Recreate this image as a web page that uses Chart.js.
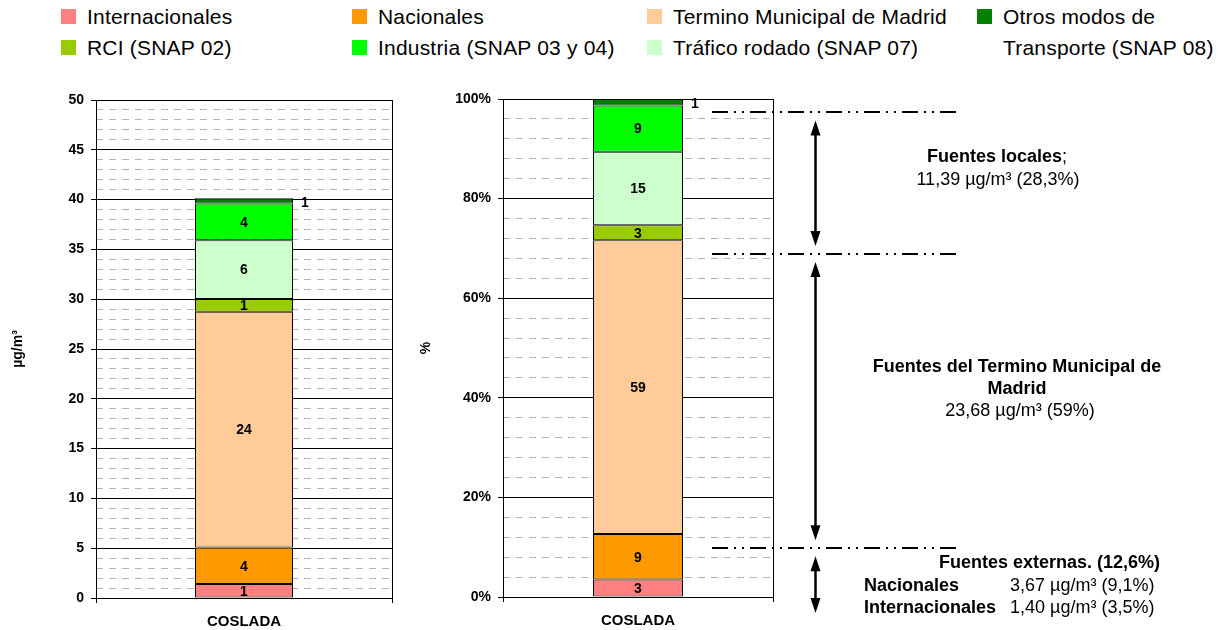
<!DOCTYPE html>
<html>
<head>
<meta charset="utf-8">
<script src="https://cdn.jsdelivr.net/npm/chart.js@4.4.1/dist/chart.umd.min.js"></script>
<style>
    body { margin: 0; width: 1230px; height: 630px; background: #fff; position: relative; overflow: hidden;
           font-family: "Liberation Sans", Arial, sans-serif; color: #000; }
    canvas { position: absolute; top: 0; }
    #concChart { left: 0; }
    #pctChart { left: 400px; }
    .lg-item { position: absolute; height: 31px; font-size: 21px; line-height: 31px; letter-spacing: 0.2px; white-space: nowrap; }
    .lg-item i { position: absolute; left: 0; top: 8px; width: 15px; height: 15px; }
    .lg-item span { position: absolute; left: 26px; top: 0; }
    .lg-item.wrap span { white-space: normal; width: 225px; }
</style>
</head>
<body>
<div id="legend"></div>
<canvas id="concChart" width="400" height="630"></canvas>
<canvas id="pctChart" width="830" height="630"></canvas>
<script>
    const categories = ['COSLADA'];
    // stack order, bottom to top
    const sources = ['Internacionales', 'Nacionales', 'Termino Municipal de Madrid', 'RCI (SNAP 02)',
        'Tráfico rodado (SNAP 07)', 'Industria (SNAP 03 y 04)', 'Otros modos de Transporte (SNAP 08)'];
    const sourceColors = ['#FF8080', '#FF9900', '#FFCC99', '#99CC00', '#CCFFCC', '#00FF00', '#008000'];
    // contribution at COSLADA, µg/m3
    const concUgm3 = [1.40, 3.67, 23.68, 1.27, 5.90, 3.70, 0.52];
    // same contributions as a share of the total, %
    const sharePct = [3.49, 9.14, 58.99, 3.05, 14.75, 9.28, 1.30];
    const concTicks = { max: 50, major: 5, minor: 1 };
    const pctTicks = { max: 100, major: 20, minor: 4 };

    // brackets on the % chart: dash-dot levels and double arrows between them
    const guideLevels = [97.3, 68.9, 9.8];
    const arrowSpans = [[97.3, 68.9], [68.9, 9.8], [9.8, -4.8]];
    const notes = [
        { x: 597, y: 157, align: 'center', runs: [['Fuentes locales', true], [';', false]] },
        { x: 598, y: 180, align: 'center', runs: [['11,39 µg/m³ (28,3%)', false]] },
        { x: 617, y: 367, align: 'center', runs: [['Fuentes del Termino Municipal de', true]] },
        { x: 617, y: 389, align: 'center', runs: [['Madrid', true]] },
        { x: 620, y: 411, align: 'center', runs: [['23,68 µg/m³ (59%)', false]] },
        { x: 760, y: 563, align: 'right', runs: [['Fuentes externas. (12,6%)', true]] },
        { x: 464, y: 586, align: 'left', runs: [['Nacionales', true]] },
        { x: 610, y: 586, align: 'left', runs: [['3,67 µg/m³ (9,1%)', false]] },
        { x: 464, y: 608, align: 'left', runs: [['Internacionales', true]] },
        { x: 610, y: 608, align: 'left', runs: [['1,40 µg/m³ (3,5%)', false]] }
    ];

    const FONT = '"Liberation Sans", Arial, sans-serif';
    Chart.defaults.font.family = FONT;
    Chart.defaults.color = '#000';

    // legend (x, row) for each source
    const legendSlots = [[61, 0], [352, 0], [647, 0], [61, 1], [647, 1], [352, 1], [977, 0]];
    const legend = document.getElementById('legend');
    sources.forEach((name, i) => {
        const item = document.createElement('div');
        item.className = 'lg-item' + (i === 6 ? ' wrap' : '');
        item.style.left = legendSlots[i][0] + 'px';
        item.style.top = (1 + legendSlots[i][1] * 31) + 'px';
        item.innerHTML = '<i style="background:' + sourceColors[i] + '"></i><span>' + name + '</span>';
        legend.appendChild(item);
    });

    // rounded value in each segment; thin segments get it beside the bar
    const segmentLabels = {
        id: 'segmentLabels',
        afterDatasetsDraw(chart) {
            const ctx = chart.ctx;
            ctx.save();
            ctx.font = 'bold 14px ' + FONT;
            ctx.fillStyle = '#000';
            ctx.textAlign = 'center';
            ctx.textBaseline = 'middle';
            chart.data.datasets.forEach((ds, i) => {
                chart.getDatasetMeta(i).data.forEach((bar, j) => {
                    const { x, y, base, width } = bar.getProps(['x', 'y', 'base', 'width'], true);
                    const label = String(Math.round(ds.data[j]));
                    const mid = (y + base) / 2;
                    if (Math.abs(base - y) < 9) ctx.fillText(label, x + width / 2 + 12, mid + 2);
                    else ctx.fillText(label, x, mid + 1);
                });
            });
            ctx.restore();
        }
    };

    function drawArrow(ctx, x, top, bottom) {
        const head = 15, half = 5;
        ctx.lineWidth = 2.5;
        ctx.beginPath();
        ctx.moveTo(x, top + head - 2);
        ctx.lineTo(x, bottom - head + 2);
        ctx.stroke();
        [[top, 1], [bottom, -1]].forEach(([tip, dir]) => {
            ctx.beginPath();
            ctx.moveTo(x, tip);
            ctx.lineTo(x - half, tip + dir * head);
            ctx.lineTo(x + half, tip + dir * head);
            ctx.closePath();
            ctx.fill();
        });
    }

    function drawNote(ctx, note) {
        const fonts = note.runs.map(r => (r[1] ? 'bold ' : '') + '18px ' + FONT);
        const widths = note.runs.map((r, i) => { ctx.font = fonts[i]; return ctx.measureText(r[0]).width; });
        const total = widths.reduce((a, b) => a + b, 0);
        let x = note.align === 'center' ? note.x - total / 2 : note.align === 'right' ? note.x - total : note.x;
        note.runs.forEach((r, i) => {
            ctx.font = fonts[i];
            ctx.fillText(r[0], x, note.y);
            x += widths[i];
        });
    }

    const sourceGuides = {
        id: 'sourceGuides',
        afterDraw(chart) {
            const ctx = chart.ctx;
            const y = chart.scales.y;
            ctx.save();
            ctx.strokeStyle = '#000';
            ctx.fillStyle = '#000';
            ctx.lineWidth = 2;
            ctx.setLineDash([16, 6, 2, 6, 2, 6]);
            guideLevels.forEach(v => {
                const py = Math.round(y.getPixelForValue(v));
                ctx.beginPath();
                ctx.moveTo(312, py);
                ctx.lineTo(557, py);
                ctx.stroke();
            });
            ctx.setLineDash([]);
            arrowSpans.forEach(([a, b]) => {
                drawArrow(ctx, 415.5, y.getPixelForValue(a) + 8, y.getPixelForValue(b) - 8);
            });
            ctx.textAlign = 'left';
            ctx.textBaseline = 'middle';
            notes.forEach(n => drawNote(ctx, n));
            ctx.restore();
        }
    };

    function renderStackedChart(canvasId, values, ticks, opts) {
        const ctx = document.getElementById(canvasId);
        return new Chart(ctx, {
            type: 'bar',
            data: {
                labels: categories,
                datasets: sources.map((name, i) => ({
                    label: name,
                    data: [values[i]],
                    yAxisID: 'y',
                    backgroundColor: sourceColors[i],
                    borderColor: '#000',
                    borderWidth: 1,
                    borderSkipped: false,
                    barPercentage: 1,
                    categoryPercentage: opts.barFrac
                }))
            },
            options: {
                responsive: false,
                animation: false,
                layout: { padding: opts.padding },
                plugins: {
                    legend: { display: false },
                    tooltip: { enabled: false }
                },
                scales: {
                    x: {
                        stacked: true,
                        grid: { color: '#000', offset: true, tickLength: 5 },
                        border: { color: '#000' },
                        ticks: { font: { size: 15, weight: 'bold' }, padding: 10 },
                        afterFit: s => { s.height = opts.xHeight; }
                    },
                    y: {
                        stacked: true,
                        min: 0,
                        max: ticks.max,
                        grid: { color: '#000', tickLength: 5 },
                        border: { color: '#000' },
                        ticks: {
                            stepSize: ticks.major,
                            padding: 7,
                            font: { size: 14, weight: 'bold' },
                            callback: opts.tickFormat
                        },
                        title: {
                            display: true,
                            text: opts.title,
                            font: { size: 14, weight: 'bold' },
                            padding: { top: opts.titlePad, bottom: 0 }
                        },
                        afterFit: s => { s.width = opts.yWidth; }
                    },
                    yMinor: {
                        position: 'left',
                        min: 0,
                        max: ticks.max,
                        ticks: { display: false, stepSize: ticks.minor, autoSkip: false },
                        grid: {
                            color: c => (c.tick && c.tick.value % ticks.major !== 0) ? '#b4b4b4' : 'rgba(0,0,0,0)',
                            drawTicks: false
                        },
                        border: { display: false, dash: [7, 6] },
                        afterFit: s => { s.width = 0; }
                    }
                }
            },
            plugins: opts.plugins
        });
    }

    renderStackedChart('concChart', concUgm3, concTicks, {
        padding: { top: 100, right: 8, bottom: 0, left: 0 },
        xHeight: 32,
        yWidth: 96,
        barFrac: 98 / 296,
        title: 'µg/m³',
        titlePad: 10,
        tickFormat: v => v,
        plugins: [segmentLabels]
    });

    renderStackedChart('pctChart', sharePct, pctTicks, {
        padding: { top: 99, right: 457, bottom: 0, left: 0 },
        xHeight: 33,
        yWidth: 103,
        barFrac: 90 / 270,
        title: '%',
        titlePad: 18,
        tickFormat: v => v + '%',
        plugins: [segmentLabels, sourceGuides]
    });
</script>
</body>
</html>
